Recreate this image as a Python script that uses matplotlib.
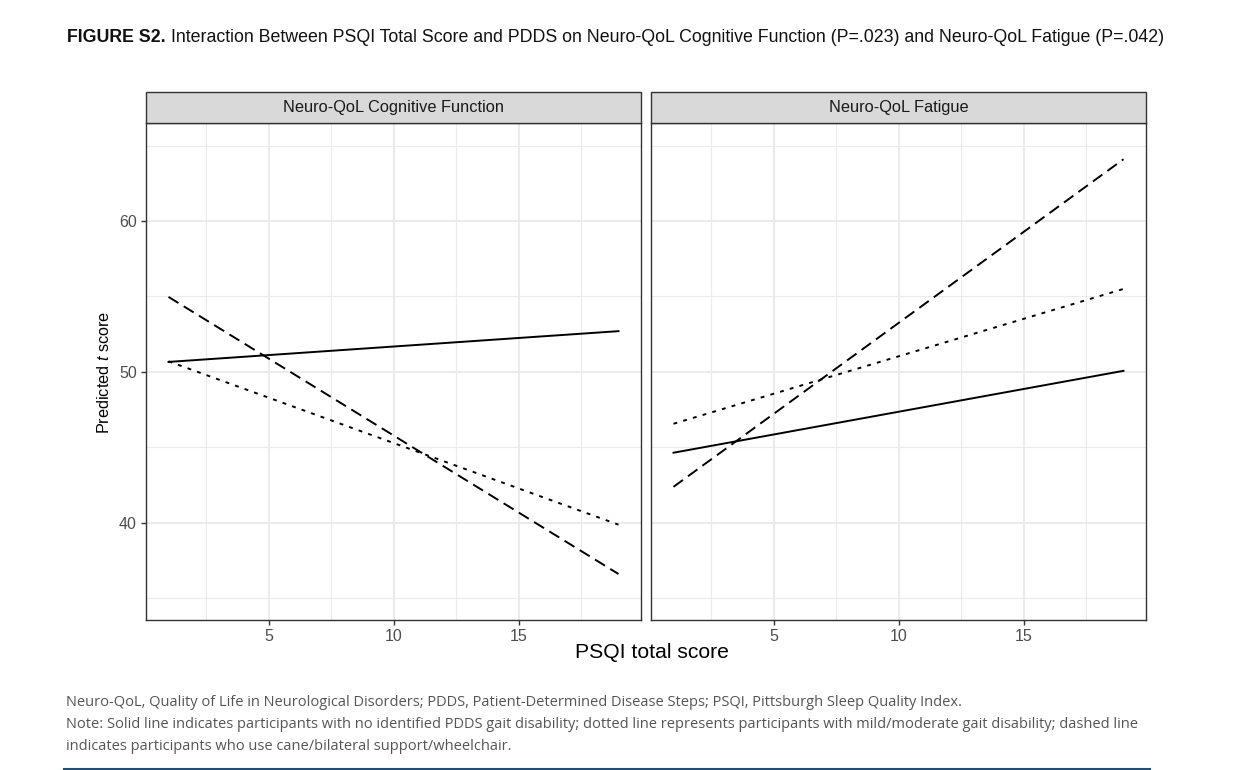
import matplotlib
matplotlib.use("Agg")
import matplotlib.pyplot as plt
from matplotlib.lines import Line2D
from matplotlib.patches import Rectangle

# ---- data ----
panels = ["Neuro-QoL Cognitive Function", "Neuro-QoL Fatigue"]
psqi = [1, 19]
# predicted t scores at PSQI = 1 and 19
cog_none = [50.66, 52.7]
cog_mild = [50.7, 39.87]
cog_cane = [54.97, 36.6]
fat_none = [44.64, 50.07]
fat_mild = [46.56, 55.5]
fat_cane = [42.38, 64.1]
x_ticks = [5, 10, 15]
y_ticks = [40, 50, 60]

plt.rcParams['font.family'] = ['Liberation Sans', 'DejaVu Sans']
plt.rcParams['mathtext.fontset'] = 'custom'
plt.rcParams['mathtext.it'] = 'Liberation Sans:italic'
plt.rcParams['mathtext.rm'] = 'Liberation Sans'

fig = plt.figure(figsize=(12.34, 7.70), dpi=100)
W, H = 1234, 770

def fx(px):
    return px / W

def fy(py):
    return 1 - py / H

ax_l = fig.add_axes([fx(146), fy(620), fx(641) - fx(146), fy(123) - fy(620)])
ax_r = fig.add_axes([fx(651), fy(620), fx(1146) - fx(651), fy(123) - fy(620)])

solid = '-'
dotted = (0, (2.0, 3.2))
dashed = (0, (6.0, 3.2))
series = [
    (ax_l, cog_none, cog_mild, cog_cane),
    (ax_r, fat_none, fat_mild, fat_cane),
]
for ax, s_none, s_mild, s_cane in series:
    ax.set_xlim(0.1, 19.9)
    ax.set_ylim(33.55, 66.5)
    ax.set_xticks(x_ticks)
    ax.set_xticks([2.5, 7.5, 12.5, 17.5], minor=True)
    ax.set_yticks(y_ticks)
    ax.set_yticks([35, 45, 55, 65], minor=True)
    ax.grid(which='major', color='#EBEBEB', lw=1.5)
    ax.grid(which='minor', color='#EBEBEB', lw=0.8)
    ax.set_axisbelow(True)
    for sp in ax.spines.values():
        sp.set_color('#333333')
        sp.set_linewidth(1.0)
    ax.tick_params(which='major', length=3.5, width=1.0, color='#333333',
                   labelcolor='#4D4D4D', labelsize=11.5, pad=3)
    ax.tick_params(which='minor', length=0)
    ax.plot(psqi, s_none, color='black', lw=1.4, linestyle=solid)
    ax.plot(psqi, s_mild, color='black', lw=1.4, linestyle=dotted)
    ax.plot(psqi, s_cane, color='black', lw=1.4, linestyle=dashed)

ax_r.tick_params(axis='y', which='both', left=False, labelleft=False)

# strips
for left_px, name in [(146, panels[0]), (651, panels[1])]:
    r = Rectangle((fx(left_px), fy(123)), fx(495), fy(92) - fy(123),
                  transform=fig.transFigure, facecolor='#D9D9D9',
                  edgecolor='#333333', lw=1.0)
    fig.add_artist(r)
    fig.text(fx(left_px + 247.5), fy(107.5), name, ha='center', va='center',
             fontsize=11.8, color='#1A1A1A')

# axis titles
fig.text(fx(652), fy(653), "PSQI total score", ha='center', va='center',
         fontsize=15.2, color='black')
fig.text(fx(104), fy(372), "Predicted $t$ score", ha='center', va='center',
         rotation=90, fontsize=11.7, color='black')

# title
tfam = ['Liberation Sans Narrow', 'Liberation Sans']
t1 = fig.text(fx(67), fy(38), "FIGURE S2.", ha='left', va='center',
              fontsize=12.8, fontweight='bold', family=tfam, color='#111111')
fig.canvas.draw()
bb = t1.get_window_extent()
fig.text(bb.x1 / W + fx(5), fy(38),
         "Interaction Between PSQI Total Score and PDDS on Neuro-QoL Cognitive Function (P=.023) and Neuro-QoL Fatigue (P=.042)",
         ha='left', va='center', fontsize=12.8, family=tfam, color='#111111')

# footnotes
foot = [
    "Neuro-QoL, Quality of Life in Neurological Disorders; PDDS, Patient-Determined Disease Steps; PSQI, Pittsburgh Sleep Quality Index.",
    "Note: Solid line indicates participants with no identified PDDS gait disability; dotted line represents participants with mild/moderate gait disability; dashed line",
    "indicates participants who use cane/bilateral support/wheelchair.",
]
for i, line in enumerate(foot):
    fig.text(fx(66), fy(702 + 22 * i), line, ha='left', va='center',
             fontsize=10.5, family=['Open Sans', 'DejaVu Sans'], color='#555555')

fig.add_artist(Line2D([fx(64), fx(1150)], [fy(769), fy(769)],
                      transform=fig.transFigure, color='#1F4E79', lw=1.5))

fig.savefig("out.png", dpi=100, facecolor='white')
